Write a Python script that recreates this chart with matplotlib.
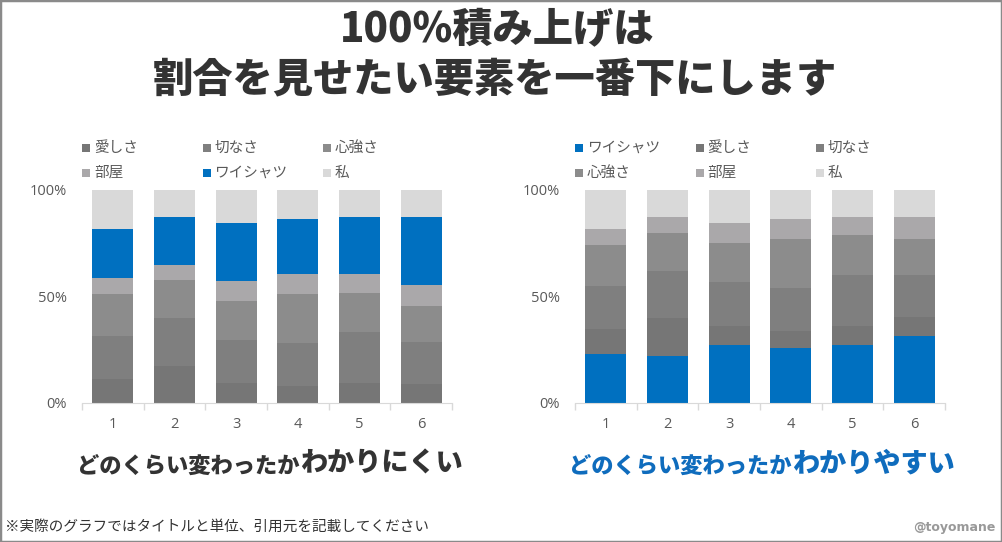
import numpy as np
import matplotlib.pyplot as plt
from matplotlib.patches import Rectangle

plt.rcParams['font.family'] = ['Noto Sans CJK JP', 'DejaVu Sans']

# data (percent of each bar)
categories = ['1', '2', '3', '4', '5', '6']
aishisa = [11.5, 17.5, 9.2, 8.0, 9.2, 8.8]
setsunasa = [20.0, 22.3, 20.6, 20.0, 24.0, 20.0]
kokorozuyosa = [19.5, 18.0, 18.2, 23.2, 18.6, 16.6]
heya = [7.5, 7.1, 9.4, 9.3, 8.6, 10.2]
shirt = [23.2, 22.2, 27.1, 26.0, 27.1, 31.5]
watashi = [100 - a - b - c - d - e for a, b, c, d, e in
           zip(aishisa, setsunasa, kokorozuyosa, heya, shirt)]

names = {'aishisa': '愛しさ', 'setsunasa': '切なさ', 'kokorozuyosa': '心強さ',
         'heya': '部屋', 'shirt': 'ワイシャツ', 'watashi': '私'}
values = {'aishisa': aishisa, 'setsunasa': setsunasa, 'kokorozuyosa': kokorozuyosa,
          'heya': heya, 'shirt': shirt, 'watashi': watashi}
colors = {'aishisa': '#767676', 'setsunasa': '#7f7f7f', 'kokorozuyosa': '#8c8c8c',
          'heya': '#aaa8aa', 'shirt': '#0070c0', 'watashi': '#d9d9d9'}

order_left = ['aishisa', 'setsunasa', 'kokorozuyosa', 'heya', 'shirt', 'watashi']
order_right = ['shirt', 'aishisa', 'setsunasa', 'kokorozuyosa', 'heya', 'watashi']

W, H = 1002, 542
fig = plt.figure(figsize=(W / 100, H / 100), dpi=100)
fig.patch.set_facecolor('white')


def px(x, y):
    return x / W, 1 - y / H


def draw_chart(left_px, order):
    ax = fig.add_axes([left_px / W, (H - 403) / H, 370 / W, 213 / H])
    x = np.arange(len(categories))
    bottom = np.zeros(len(categories))
    for key in order:
        ax.bar(x, values[key], 0.66, bottom=bottom, color=colors[key], linewidth=0)
        bottom += np.array(values[key])
    ax.set_xlim(-0.5, len(categories) - 0.5)
    ax.set_ylim(0, 100)
    ax.set_yticks([0, 50, 100])
    ax.set_yticklabels(['0%', '50%', '100%'], family='Open Sans')
    ax.set_xticks(x)
    ax.set_xticklabels(categories, family='Open Sans')
    ax.set_xticks(np.arange(len(categories) + 1) - 0.5, minor=True)
    ax.tick_params(axis='x', which='major', length=0, pad=10, labelsize=10.5, labelcolor='#595959')
    ax.tick_params(axis='x', which='minor', length=5, color='#d9d9d9', width=1)
    ax.tick_params(axis='y', length=0, pad=11, labelsize=10.5, labelcolor='#595959')
    for s in ['top', 'right', 'left']:
        ax.spines[s].set_visible(False)
    ax.spines['bottom'].set_color('#d9d9d9')

    # legend, 2 rows x 3 columns
    for i, key in enumerate(order):
        lx = left_px + (i % 3) * 120.5
        ly = 148 + (i // 3) * 25
        fig.add_artist(Rectangle(px(lx, ly + 4), 8 / W, 8 / H,
                                 transform=fig.transFigure, color=colors[key], lw=0))
        fig.text(*px(lx + 12, ly), names[key], fontsize=10.5, color='#595959',
                 va='center', ha='left')
    return ax


draw_chart(82, order_left)
draw_chart(575, order_right)

# titles
fig.text(*px(497, 30), '100%積み上げは', fontsize=29, weight='black',
         color='#333333', ha='center', va='center')
fig.text(*px(495, 79), '割合を見せたい要素を一番下にします', fontsize=29, weight='black',
         color='#333333', ha='center', va='center')

# subtitles
fig.text(*px(300, 466), 'どのくらい変わったか', fontsize=16, weight='black',
         color='#333333', ha='right', va='center')
fig.text(*px(300, 463), 'わかりにくい', fontsize=19.5, weight='black',
         color='#333333', ha='left', va='center')
fig.text(*px(792, 466), 'どのくらい変わったか', fontsize=16, weight='black',
         color='#0f6cbd', ha='right', va='center')
fig.text(*px(792, 463), 'わかりやすい', fontsize=19.5, weight='black',
         color='#0f6cbd', ha='left', va='center')

# footnotes
fig.text(*px(5, 527), '※実際のグラフではタイトルと単位、引用元を記載してください',
         fontsize=10.5, color='#333333', ha='left', va='center')
fig.text(*px(996, 527), '@toyomane', fontsize=9, weight='bold',
         color='#999999', ha='right', va='center', family='DejaVu Sans')

# outer border
fig.add_artist(Rectangle((0, 0), 1, 1, transform=fig.transFigure, fill=False,
                         edgecolor='#8a8a8a', lw=2.5))

plt.savefig('out.png', dpi=100)
